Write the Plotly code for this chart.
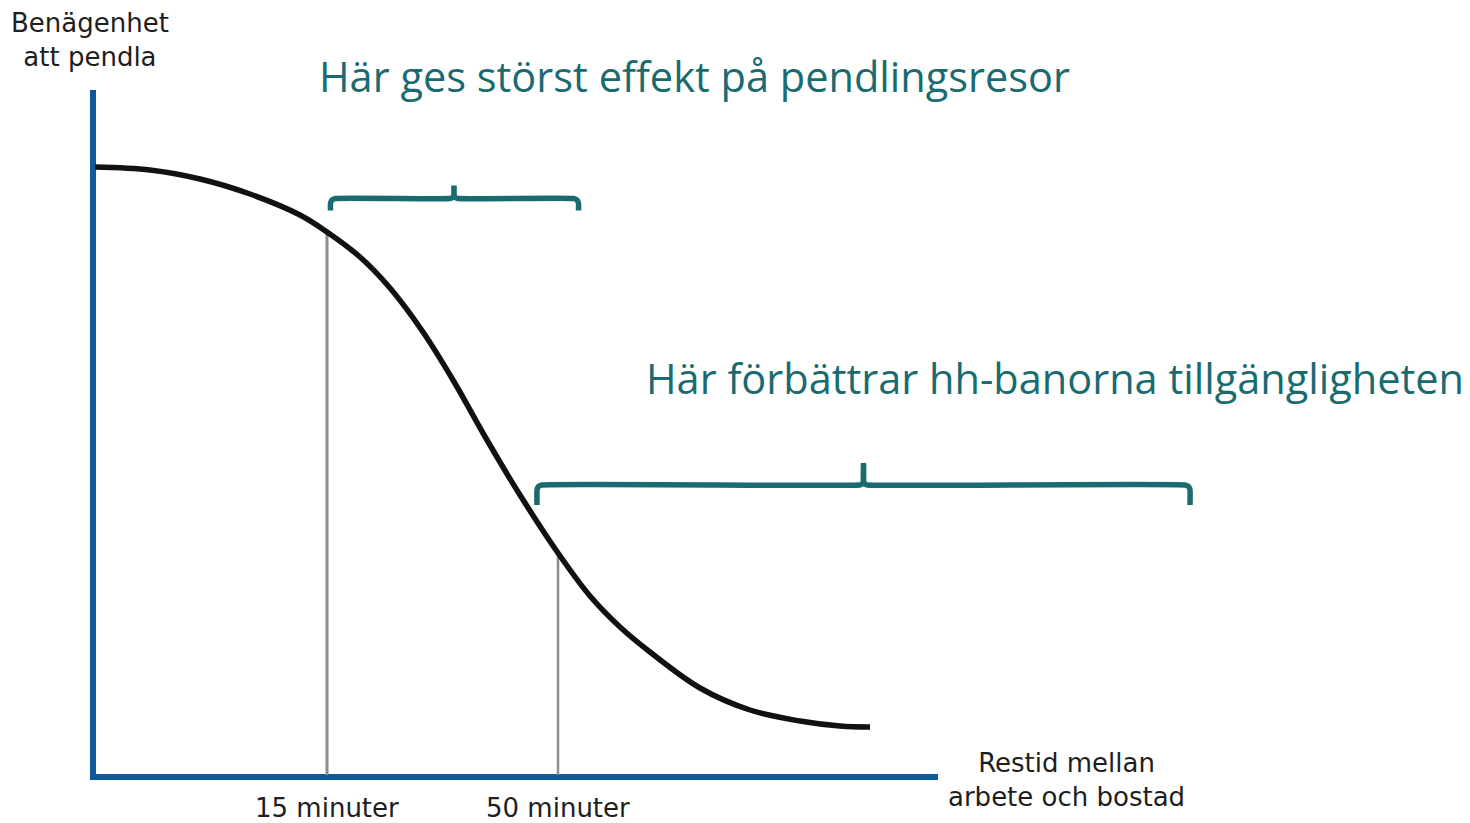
import plotly.graph_objects as go

# ---- data (schematic units: x = distance from y-axis, y = height above x-axis) ----
curve_x = [2, 57, 107, 157, 207, 234, 267, 297, 330, 360, 394, 427, 465, 497, 527, 557, 607, 657, 707, 747, 777]
curve_y = [610, 607, 598, 583, 562, 545, 520, 489, 445, 397, 337, 282, 224, 181, 150, 125, 89, 67, 56, 51, 50]

tick_x = [234, 465]
tick_top = [545, 224]
tick_labels = ["15 minuter", "50 minuter"]

# brackets: left, right, baseline height, notch position
bracket_left = [237.5, 444]
bracket_right = [485.5, 1097]
bracket_y = [578.5, 292]
bracket_mid = [361, 770.5]
bracket_texts = ["Här ges störst effekt på pendlingsresor",
                 "Här förbättrar hh-banorna tillgängligheten"]
bracket_text_x = [601, 962]
bracket_text_y = [701, 399]

y_axis_label = "Benägenhet<br>att pendla"
x_axis_label = "Restid mellan<br>arbete och bostad"

X_AXIS_END = 845
Y_AXIS_TOP = 687

BLUE = "#10599b"
TEAL = "#1a6b70"
GRAY = "#8c8c8c"
TXT = "#1e1e1e"

fig = go.Figure()

# axes
fig.add_trace(go.Scatter(x=[0, 0], y=[Y_AXIS_TOP, -3], mode="lines",
                         line=dict(color=BLUE, width=6), hoverinfo="skip"))
fig.add_trace(go.Scatter(x=[-3, X_AXIS_END], y=[0, 0], mode="lines",
                         line=dict(color=BLUE, width=6), hoverinfo="skip"))

# vertical reference lines
for tx, tt, w in zip(tick_x, tick_top, [3, 2.5]):
    fig.add_trace(go.Scatter(x=[tx, tx], y=[2, tt], mode="lines",
                             line=dict(color=GRAY, width=w), hoverinfo="skip"))

# curve
fig.add_trace(go.Scatter(x=curve_x, y=curve_y, mode="lines",
                         line=dict(color="#111111", width=5.5, shape="spline", smoothing=1.0),
                         hoverinfo="skip"))

# brackets
for x0, x1, by, xm, d, n in zip(bracket_left, bracket_right, bracket_y, bracket_mid, [12, 20], [13, 22]):
    r = 5
    bx = [x0, x0, x0 + 1.5, x0 + r, xm - 4, xm - 1.5, xm, xm, xm, xm + 1.5, xm + 4, x1 - r, x1 - 1.5, x1, x1]
    bdy = [-d, -r, -1.5, 0, 0, 1, 4, n, 4, 1, 0, 0, -1.5, -r, -d]
    fig.add_trace(go.Scatter(x=bx, y=[by + v for v in bdy], mode="lines",
                             line=dict(color=TEAL, width=5.5, shape="spline", smoothing=0.4),
                             hoverinfo="skip"))

fig.update_layout(
    width=1462, height=815,
    margin=dict(l=0, r=0, t=0, b=0),
    paper_bgcolor="white", plot_bgcolor="white",
    showlegend=False,
    xaxis=dict(range=[-85, 1377], visible=False, fixedrange=True),
    yaxis=dict(range=[-46, 769], visible=False, fixedrange=True),
)

ann = []
for t, x, y in zip(bracket_texts, bracket_text_x, bracket_text_y):
    ann.append(dict(x=x, y=y, text=t, showarrow=False, xanchor="center", yanchor="middle",
                    font=dict(family="Open Sans", size=41.5, color=TEAL)))
for t, x in zip(tick_labels, tick_x):
    ann.append(dict(x=x, y=-31, text=t, showarrow=False, xanchor="center", yanchor="middle",
                    font=dict(family="DejaVu Sans", size=26, color=TXT)))
ann.append(dict(x=-3, y=737, text=y_axis_label, showarrow=False, xanchor="center", yanchor="middle",
                font=dict(family="DejaVu Sans", size=26, color=TXT)))
ann.append(dict(x=973, y=-3, text=x_axis_label, showarrow=False, xanchor="center", yanchor="middle",
                font=dict(family="DejaVu Sans", size=26, color=TXT)))
fig.update_layout(annotations=ann)

fig.write_html("out.html")
